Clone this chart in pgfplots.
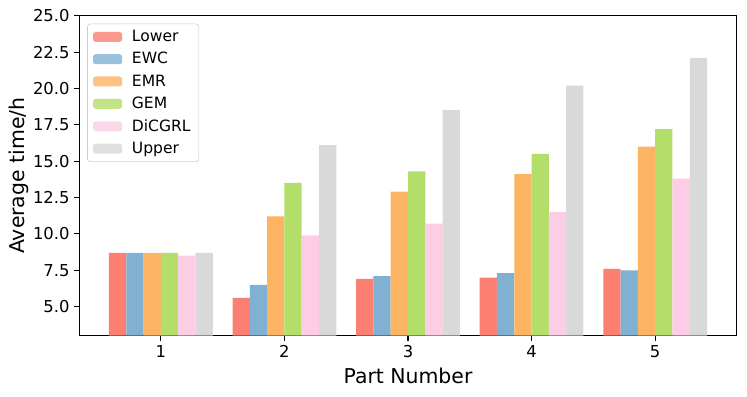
\documentclass[border=0pt]{standalone}
\usepackage{fontspec}
\setmainfont{DejaVu Sans}
\usepackage{pgfplots}
\pgfplotsset{compat=1.18}
\definecolor{cLower}{HTML}{FB8072}
\definecolor{cEWC}{HTML}{80B1D3}
\definecolor{cEMR}{HTML}{FDB462}
\definecolor{cGEM}{HTML}{B3DE69}
\definecolor{cDiC}{HTML}{FCCDE5}
\definecolor{cUpper}{HTML}{D9D9D9}

\begin{document}
\begin{tikzpicture}
\useasboundingbox (-57.1pt,-44.1pt) rectangle (480.7pt,241.7pt);
\begin{axis}[
    scale only axis,
    width=473.3pt, height=230.4pt,
    xmin=0.34, xmax=5.66,
    ymin=3.0, ymax=25.0,
    xtick={1,2,3,4,5},
    ytick={5,7.5,10,12.5,15,17.5,20,22.5,25},
    yticklabel style={/pgf/number format/.cd, fixed, fixed zerofill, precision=1},
    /pgf/number format/assume math mode=true,
    tick label style={font=\fontsize{11.8}{14}\selectfont},
    tick align=outside,
    tick pos=left,
    major tick length=3.5pt,
    axis line style={line width=0.8pt},
    every tick/.style={black, line width=0.8pt},
    xlabel={Part Number},
    ylabel={Average time/h},
    every axis x label/.style={at={(axis description cs:0.5,-0.126)}, anchor=center,
        font=\fontsize{14.7}{17}\selectfont},
    every axis y label/.style={at={(axis description cs:-0.0917,0.5)}, anchor=center, rotate=90,
        font=\fontsize{14.7}{17}\selectfont},
    bar width=0.14,
    legend style={at={(0.012,0.975)}, anchor=north west,
        draw=black!20, rounded corners=2pt, fill=white, fill opacity=0.8, text opacity=1,
        font=\fontsize{11.2}{13}\selectfont, row sep=2.3pt, inner xsep=4pt, inner ysep=2.5pt,
        /tikz/every odd column/.append style={column sep=5pt}},
    legend cell align=left,
    legend image code/.code={\fill[#1] (0pt,-3.6pt) rectangle (21pt,3.6pt);},
]
\addplot[ybar, bar shift=-0.35, fill=cLower, draw=none] coordinates {(1,8.7) (2,5.6) (3,6.9) (4,7.0) (5,7.6)};
\addlegendentry{Lower}
\addplot[ybar, bar shift=-0.21, fill=cEWC, draw=none] coordinates {(1,8.7) (2,6.5) (3,7.1) (4,7.3) (5,7.5)};
\addlegendentry{EWC}
\addplot[ybar, bar shift=-0.07, fill=cEMR, draw=none] coordinates {(1,8.7) (2,11.2) (3,12.9) (4,14.1) (5,16.0)};
\addlegendentry{EMR}
\addplot[ybar, bar shift=0.07, fill=cGEM, draw=none] coordinates {(1,8.7) (2,13.5) (3,14.3) (4,15.5) (5,17.2)};
\addlegendentry{GEM}
\addplot[ybar, bar shift=0.21, fill=cDiC, draw=none] coordinates {(1,8.5) (2,9.9) (3,10.7) (4,11.5) (5,13.8)};
\addlegendentry{DiCGRL}
\addplot[ybar, bar shift=0.35, fill=cUpper, draw=none] coordinates {(1,8.7) (2,16.1) (3,18.5) (4,20.2) (5,22.1)};
\addlegendentry{Upper}
\end{axis}
\end{tikzpicture}
\end{document}
